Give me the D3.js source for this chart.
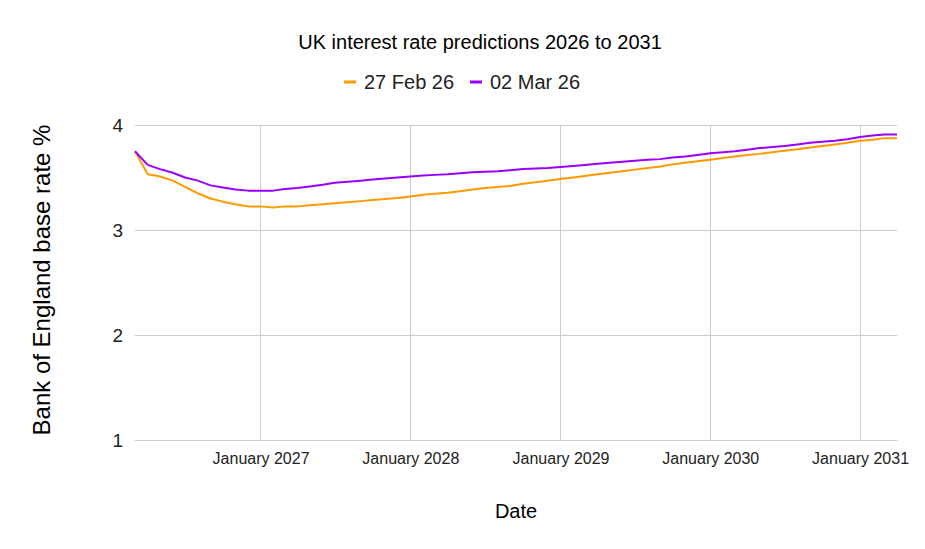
<!DOCTYPE html>
<html>
<head>
<meta charset="utf-8">
<script src="https://cdn.jsdelivr.net/npm/d3@7"></script>
<style>
  body { margin: 0; background: #fff; }
  svg { font-family: "Liberation Sans", Arial, sans-serif; }
</style>
</head>
<body>
<svg id="chart" width="925" height="549"></svg>
<script>
// Monthly forecast points, March 2026 to April 2031
var startMonth = "2026-03";
var seriesNames = ["27 Feb 26", "02 Mar 26"];
var seriesColors = ["#ff9900", "#9900ff"];
var feb27 = [3.75, 3.53, 3.51, 3.47, 3.41, 3.35, 3.30, 3.27, 3.245, 3.225,
             3.225, 3.215, 3.225, 3.225, 3.235, 3.245, 3.255, 3.265, 3.275, 3.285,
             3.295, 3.305, 3.32, 3.335, 3.345, 3.355, 3.37, 3.385, 3.40, 3.41,
             3.42, 3.44, 3.455, 3.47, 3.485, 3.50, 3.515, 3.53, 3.545, 3.56,
             3.575, 3.59, 3.605, 3.625, 3.64, 3.655, 3.67, 3.685, 3.70, 3.715,
             3.725, 3.74, 3.755, 3.77, 3.785, 3.80, 3.815, 3.83, 3.85, 3.86,
             3.875, 3.875];
var mar02 = [3.75, 3.62, 3.58, 3.545, 3.50, 3.47, 3.425, 3.405, 3.385, 3.375,
             3.375, 3.375, 3.39, 3.40, 3.415, 3.43, 3.45, 3.46, 3.47, 3.48,
             3.49, 3.50, 3.51, 3.52, 3.525, 3.53, 3.54, 3.55, 3.555, 3.56,
             3.57, 3.58, 3.585, 3.59, 3.60, 3.61, 3.62, 3.63, 3.64, 3.65,
             3.66, 3.67, 3.675, 3.69, 3.70, 3.715, 3.73, 3.74, 3.75, 3.765,
             3.78, 3.79, 3.80, 3.815, 3.83, 3.84, 3.85, 3.865, 3.885, 3.90,
             3.91, 3.91];
var yTicks = [1, 2, 3, 4];

var svg = d3.select("#chart"),
    margin = {top: 125, right: 28, bottom: 109, left: 135},
    width = 925 - margin.left - margin.right,
    height = 549 - margin.top - margin.bottom;

var parseMonth = d3.timeParse("%Y-%m");
var first = parseMonth(startMonth);
var dates = feb27.map(function(d, i){ return d3.timeMonth.offset(first, i); });

var x = d3.scaleTime()
    .domain([dates[0], dates[dates.length - 1]])
    .range([margin.left, margin.left + width]);
var y = d3.scaleLinear()
    .domain([1, 4])
    .range([margin.top + height, margin.top]);

// title and legend
svg.append("text")
    .attr("x", 480).attr("y", 49)
    .attr("text-anchor", "middle")
    .attr("font-size", 20).attr("fill", "#000")
    .text("UK interest rate predictions 2026 to 2031");

var legend = svg.append("g").attr("transform", "translate(344,82)");
var legendX = [0, 126];
seriesNames.forEach(function(name, i){
    var g = legend.append("g").attr("transform", "translate(" + legendX[i] + ",0)");
    g.append("rect").attr("x", 0).attr("y", -1.5).attr("width", 12).attr("height", 3)
        .attr("fill", seriesColors[i]);
    g.append("text").attr("x", 20).attr("y", 0).attr("dy", "0.35em")
        .attr("font-size", 20).attr("fill", "#222").text(name);
});

// gridlines
var yearTicks = x.ticks(d3.timeYear.every(1));
svg.append("g").selectAll("line").data(yTicks).enter().append("line")
    .attr("x1", margin.left).attr("x2", margin.left + width)
    .attr("y1", function(d){ return y(d); }).attr("y2", function(d){ return y(d); })
    .attr("stroke", "#cccccc").attr("stroke-width", 1)
    .attr("shape-rendering", "crispEdges");
svg.append("g").selectAll("line").data(yearTicks).enter().append("line")
    .attr("x1", function(d){ return x(d); }).attr("x2", function(d){ return x(d); })
    .attr("y1", margin.top).attr("y2", margin.top + height)
    .attr("stroke", "#cccccc").attr("stroke-width", 1)
    .attr("shape-rendering", "crispEdges");

// axes
var xAxis = svg.append("g")
    .attr("transform", "translate(0," + (margin.top + height) + ")")
    .call(d3.axisBottom(x).tickValues(yearTicks).tickFormat(d3.timeFormat("January %Y")).tickSize(0).tickPadding(13));
xAxis.select(".domain").attr("stroke", "#cccccc");
xAxis.selectAll("text").attr("font-size", 16).attr("fill", "#222")
    .attr("font-family", "'Liberation Sans', Arial, sans-serif");

var yAxis = svg.append("g")
    .attr("transform", "translate(" + margin.left + ",0)")
    .call(d3.axisLeft(y).tickValues(yTicks).tickFormat(d3.format("d")).tickSize(0).tickPadding(12));
yAxis.select(".domain").remove();
yAxis.selectAll("text").attr("font-size", 19).attr("fill", "#222")
    .attr("font-family", "'Liberation Sans', Arial, sans-serif");

// axis titles
svg.append("text")
    .attr("x", 516).attr("y", 518)
    .attr("text-anchor", "middle")
    .attr("font-size", 20).attr("fill", "#000")
    .text("Date");
svg.append("text")
    .attr("transform", "translate(50,280) rotate(-90)")
    .attr("text-anchor", "middle")
    .attr("font-size", 24).attr("fill", "#000")
    .text("Bank of England base rate %");

// lines
var line = d3.line()
    .x(function(d, i){ return x(dates[i]); })
    .y(function(d){ return y(d); });
[feb27, mar02].forEach(function(series, i){
    svg.append("path")
        .datum(series)
        .attr("fill", "none")
        .attr("stroke", seriesColors[i])
        .attr("stroke-width", 2)
        .attr("stroke-linejoin", "round")
        .attr("d", line);
});
</script>
</body>
</html>
